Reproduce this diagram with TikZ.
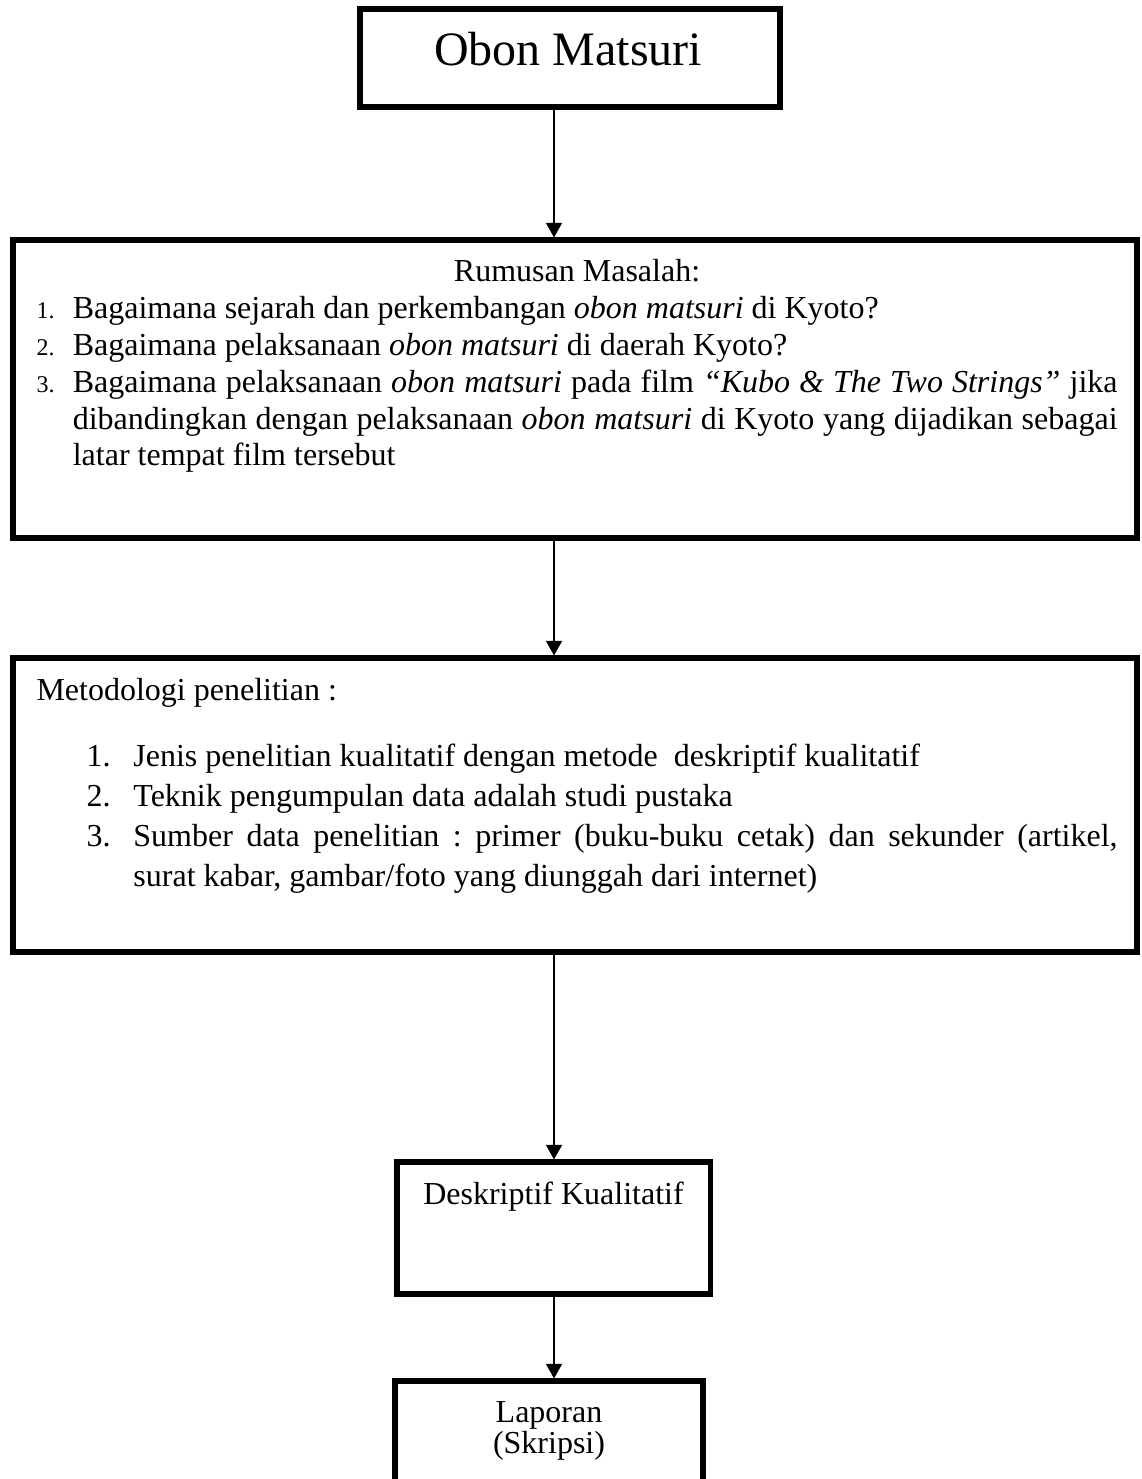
\documentclass[tikz,border=0pt]{standalone}
\usepackage{fontspec}
\setmainfont{Liberation Serif}
\usetikzlibrary{arrows.meta}
\tikzset{
    >={Triangle[width=6pt, length=5.5pt]} % Default arrow tip
}
\tikzstyle{flowbox}=[
    draw,
    rectangle,
    line width = 1.9pt,
    inner sep = 0pt
]
\tikzstyle{boxtext}=[
    inner sep = 0pt,
    font = \fontsize{12}{13.8}\selectfont
]
\tikzstyle{flow}=[
    ->,
    line width = 0.75pt
]
% numbered line: indent, hang, number
\newcommand{\flowitem}[3]{\par\leftskip=#1\hangindent=#2\hangafter=1\noindent\makebox[#2][l]{#3}\ignorespaces}

\begin{document}
\begin{tikzpicture}[x=0.375pt, y=-0.375pt]
    \path [use as bounding box, clip] (0, 0) rectangle (1141, 1479);

    \coordinate (spine) at (554, 0);

    \node [flowbox, minimum width = 157.5pt, minimum height = 36.75pt] (obon) at (570, 58) {};
    \node [flowbox, minimum width = 421.5pt, minimum height = 111.75pt] (rumusan) at (575, 389) {};
    \node [flowbox, minimum width = 421.5pt, minimum height = 110.25pt] (metode) at (575, 805) {};
    \node [flowbox, minimum width = 117.4pt, minimum height = 49.5pt] (deskriptif) at (553.5, 1228) {};
    \node [flowbox, minimum width = 115.5pt, minimum height = 75pt] (laporan) at (549, 1481) {};

    \node [boxtext, font = \fontsize{18}{21}\selectfont, anchor = base] (obon-t) at (568, 66) {Obon Matsuri};

    \node [boxtext, anchor = base west, text width = 405.4pt, align = justify] (rumusan-t) at (36, 282) {%
        \spaceskip=3pt plus 2pt minus 1pt
        \hyphenpenalty=10000 \exhyphenpenalty=10000 \frenchspacing
        {\centering Rumusan Masalah:\par}
        \flowitem{0pt}{13.6pt}{\fontsize{9}{10}\selectfont 1.}Bagaimana sejarah dan perkembangan \textit{obon matsuri} di Kyoto?
        \flowitem{0pt}{13.6pt}{\fontsize{9}{10}\selectfont 2.}Bagaimana pelaksanaan \textit{obon matsuri} di daerah Kyoto?
        \flowitem{0pt}{13.6pt}{\fontsize{9}{10}\selectfont 3.}Bagaimana pelaksanaan \textit{obon matsuri} pada film \textit{“Kubo \& The Two Strings”} jika\linebreak
        dibandingkan dengan pelaksanaan \textit{obon matsuri} di Kyoto yang dijadikan sebagai\linebreak
        latar tempat film tersebut\par};

    \node [boxtext, font = \fontsize{12}{15}\selectfont, anchor = base west, text width = 405.4pt, align = justify] (metode-t) at (36, 700) {%
        \spaceskip=3pt plus 3pt minus 1pt
        \hyphenpenalty=10000 \exhyphenpenalty=10000 \frenchspacing
        Metodologi penelitian :\par
        \vspace{10.1pt}
        \flowitem{18.75pt}{17.6pt}{1.}Jenis penelitian kualitatif dengan metode\ \ deskriptif kualitatif
        \flowitem{18.75pt}{17.6pt}{2.}Teknik pengumpulan data adalah studi pustaka
        \flowitem{18.75pt}{17.6pt}{3.}Sumber data penelitian : primer (buku-buku cetak) dan sekunder (artikel,\linebreak
        surat kabar, gambar/foto yang diunggah dari internet)\par};

    \node [boxtext, anchor = base] (deskriptif-t) at (553.5, 1204) {Deskriptif Kualitatif};
    \node [boxtext, font = \fontsize{12}{10.1}\selectfont, anchor = base, text width = 100pt, align = center] (laporan-t) at (549, 1422) {\lineskiplimit=-5pt Laporan\\(Skripsi)};

    \draw [flow] (obon.south -| spine) -- (rumusan.north -| spine);
    \draw [flow] (rumusan.south -| spine) -- (metode.north -| spine);
    \draw [flow] (metode.south -| spine) -- (deskriptif.north -| spine);
    \draw [flow] (deskriptif.south -| spine) -- (laporan.north -| spine);
\end{tikzpicture}
\end{document}
